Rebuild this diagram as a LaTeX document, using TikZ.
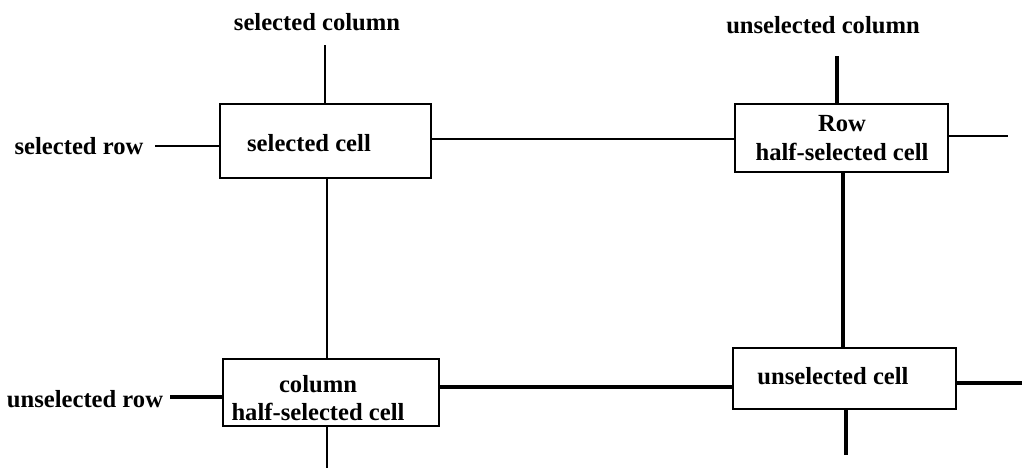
\documentclass[tikz,border=0pt]{standalone}
\usepackage{fontspec}
\setmainfont{Liberation Serif}
\begin{document}
\begin{tikzpicture}[x=0.025cm,y=-0.025cm,
	cell/.style={draw,line width=0.9pt,inner sep=0pt},
	lbl/.style={font=\fontsize{17.5}{20}\selectfont\bfseries,align=center,inner sep=0pt},
	wire/.style={line width=0.9pt},
	boldwire/.style={line width=3pt}]
	\useasboundingbox (0,0) rectangle (1022,468);
	% cells
	\node [cell,minimum width=5.275cm,minimum height=1.85cm] (sel) at (325.5,141) {};
	\node [cell,minimum width=5.325cm,minimum height=1.7cm] (rowhalf) at (841.5,138) {};
	\node [cell,minimum width=5.4cm,minimum height=1.675cm] (colhalf) at (331,392.5) {};
	\node [cell,minimum width=5.575cm,minimum height=1.525cm] (unsel) at (844.5,378.5) {};
	% texts
	\node [lbl] (seltext) at (309,143) {selected cell};
	\node [lbl] (rowhalftext) at (842,138) {Row\\half-selected cell};
	\node [lbl] (colhalftext) at (318,398) {column\\half-selected cell};
	\node [lbl] (unseltext) at (833,376) {unselected cell};
	\node [lbl] (selcol) at (317,22) {selected column};
	\node [lbl] (unselcol) at (823,25) {unselected column};
	\node [lbl] (selrow) at (79,146) {selected row};
	\node [lbl] (unselrow) at (85,399) {unselected row};
	% free ends
	\coordinate (selcoltop) at (325,45);
	\coordinate (selrowend) at (155,146);
	\coordinate (rowhalfend) at (1008,136);
	\coordinate (unselcoltop) at (837,56);
	\coordinate (colhalfend) at (327,468);
	\coordinate (unselrowend) at (170,397);
	\coordinate (unselend) at (1022,383);
	\coordinate (unselbottom) at (846,455);
	\coordinate (rowline) at (0,139);
	\coordinate (unselrowline) at (0,387);
	\coordinate (unselcolline) at (843,0);
	% selected lines
	\draw [wire] (selcoltop) -- (selcoltop |- sel.north);
	\draw [wire] (selrowend) -- (selrowend -| sel.west);
	\draw [wire] (sel.east |- rowline) -- (rowhalf.west |- rowline);
	\draw [wire] (rowhalf.east |- rowhalfend) -- (rowhalfend);
	\draw [wire] (colhalfend |- sel.south) -- (colhalfend |- colhalf.north);
	\draw [wire] (colhalfend |- colhalf.south) -- (colhalfend);
	% unselected lines
	\draw [boldwire] (unselcoltop) -- (unselcoltop |- rowhalf.north);
	\draw [boldwire] (unselcolline |- rowhalf.south) -- (unselcolline |- unsel.north);
	\draw [boldwire] (unselrowend) -- (unselrowend -| colhalf.west);
	\draw [boldwire] (colhalf.east |- unselrowline) -- (unsel.west |- unselrowline);
	\draw [boldwire] (unsel.east |- unselend) -- (unselend);
	\draw [boldwire] (unselbottom |- unsel.south) -- (unselbottom);
\end{tikzpicture}
\end{document}
